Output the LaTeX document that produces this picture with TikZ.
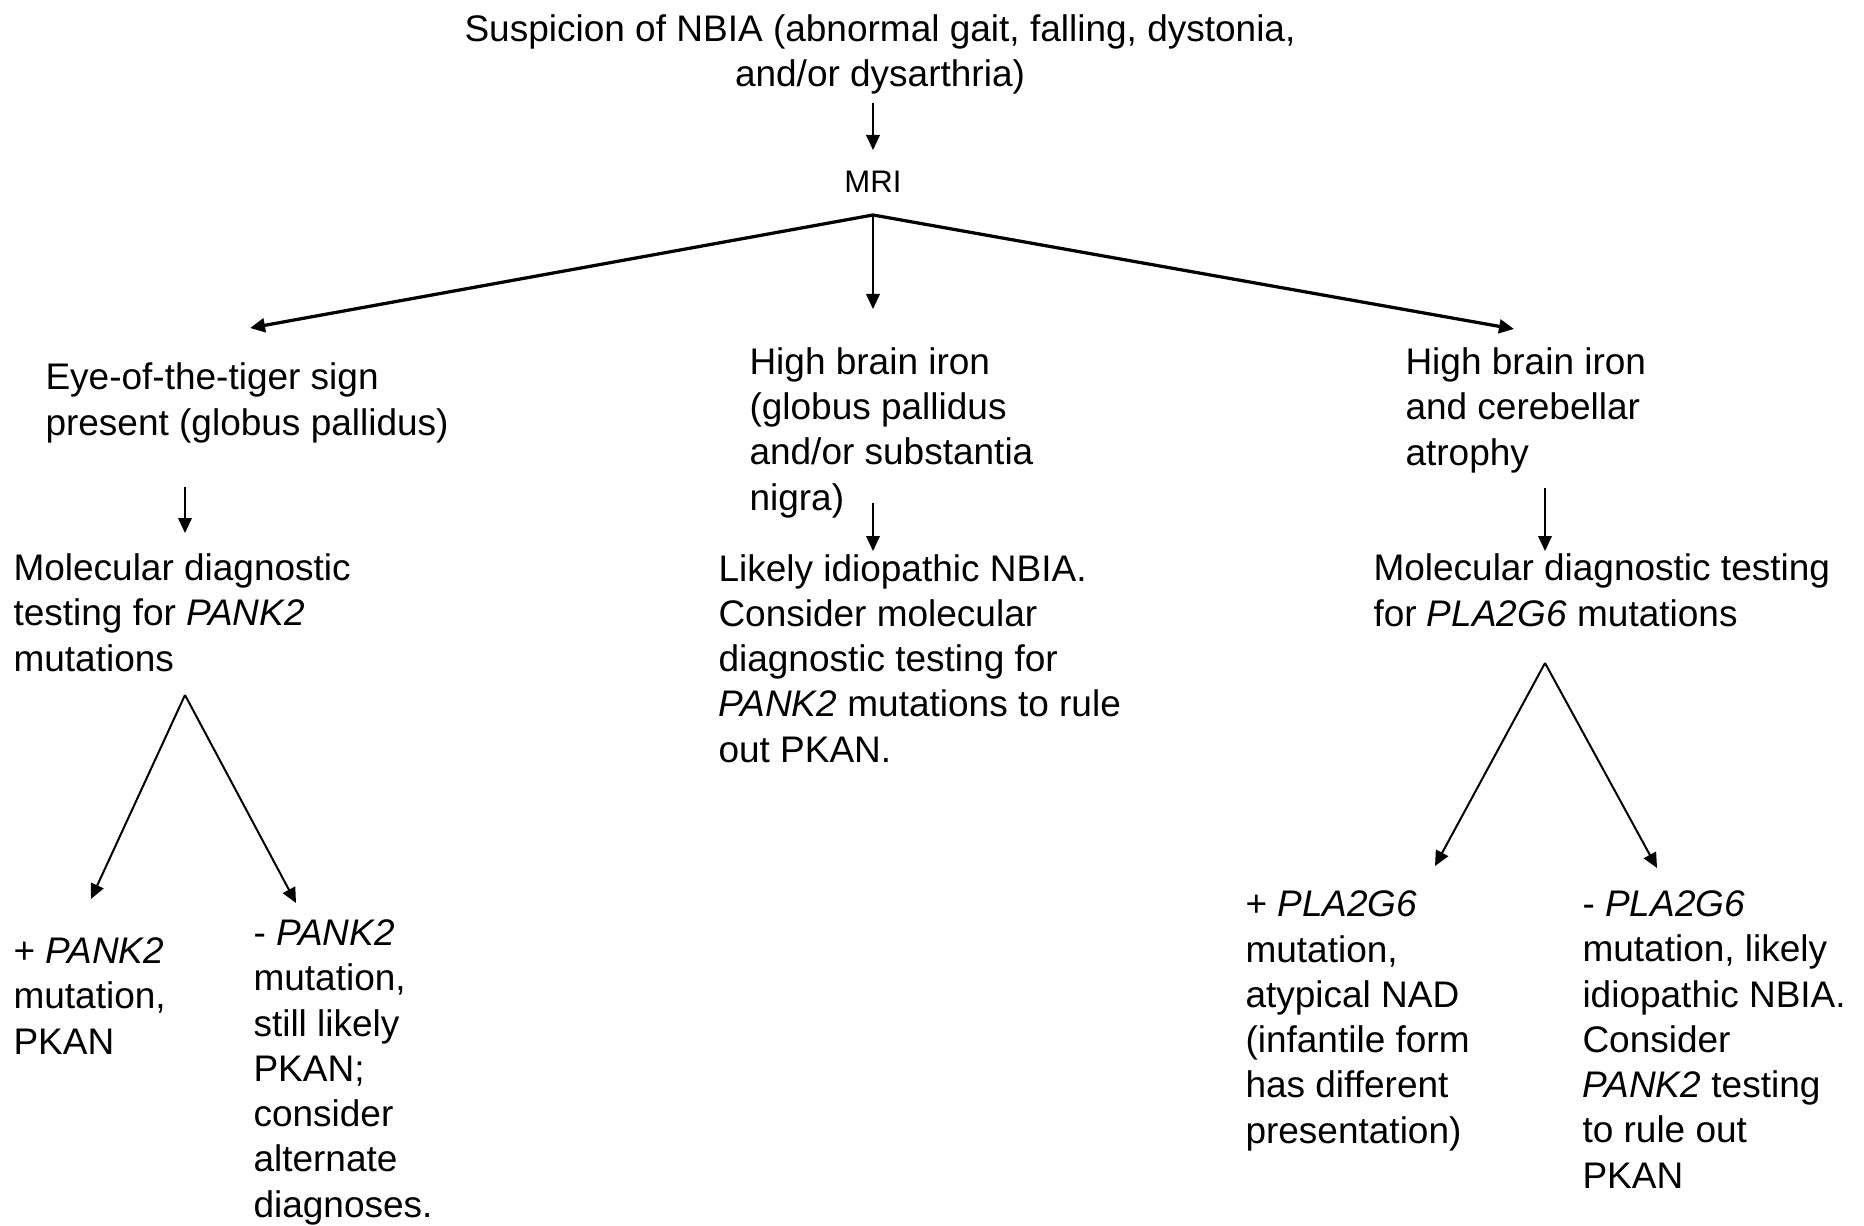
\documentclass[tikz,border=0pt]{standalone}
\usepackage{fontspec}
\setmainfont{Liberation Sans}
\usetikzlibrary{arrows.meta}
\begin{document}
\begin{tikzpicture}[x=0.4pt,y=-0.4pt,>={Triangle[length=6pt,width=5.5pt]},
  txt/.style={inner sep=0pt,anchor=base west,align=left,font=\fontsize{14.8pt}{18.1pt}\selectfont},
  thinline/.style={->,line width=0.55pt},
  medline/.style={->,line width=0.8pt},
  thickline/.style={->,line width=1.3pt}]
\useasboundingbox (0,0) rectangle (1864,1225);
% texts (placed at the baseline of their last line)
\node[txt,anchor=base,align=center](susp) at (880,87){Suspicion of NBIA (abnormal gait, falling, dystonia,\\and/or dysarthria)};
\node[inner sep=0pt,anchor=base,font=\fontsize{12.45pt}{15pt}\selectfont](mri) at (873,193){MRI};
\node[txt](eye) at (45,435){Eye-of-the-tiger sign\\present (globus pallidus)};
\node[txt](ironmid) at (749,510){High brain iron\\(globus pallidus\\and/or substantia\\nigra)};
\node[txt](ironcb) at (1405,465){High brain iron\\and cerebellar\\atrophy};
\node[txt](molpank) at (13,671){Molecular diagnostic\\testing for \textit{PANK2}\\mutations};
\node[txt](idio) at (718,762){Likely idiopathic NBIA.\\Consider molecular\\diagnostic testing for\\\textit{PANK2} mutations to rule\\out PKAN.};
\node[txt](molpla) at (1373,626){Molecular diagnostic testing\\for \textit{PLA2G6} mutations};
\node[txt](pankpos) at (13,1054){+ \textit{PANK2}\\mutation,\\PKAN};
\node[txt](pankneg) at (253,1217){- \textit{PANK2}\\mutation,\\still likely\\PKAN;\\consider\\alternate\\diagnoses.};
\node[txt](plapos) at (1245,1143){+ \textit{PLA2G6}\\mutation,\\atypical NAD\\(infantile form\\has different\\presentation)};
\node[txt](planeg) at (1582,1188){- \textit{PLA2G6}\\mutation, likely\\idiopathic NBIA.\\Consider\\\textit{PANK2} testing\\to rule out\\PKAN};
% arrow ends
\coordinate (suspout) at (873,103);
\coordinate (mriin) at (873,150);
\coordinate (mrifork) at (873,215);
\coordinate (eyein) at (250,328);
\coordinate (midin) at (873,309);
\coordinate (cbin) at (1514,329);
\coordinate (eyeout) at (185,487);
\coordinate (molpankin) at (185,533);
\coordinate (midout) at (873,503);
\coordinate (idioin) at (873,551);
\coordinate (cbout) at (1545,488);
\coordinate (molplain) at (1545,551);
\coordinate (pankfork) at (185,695);
\coordinate (pankposin) at (91,899);
\coordinate (panknegin) at (296,903);
\coordinate (plafork) at (1545,663);
\coordinate (plaposin) at (1435,866);
\coordinate (planegin) at (1657,868);
% arrows
\draw[thinline](suspout)--(mriin);
\draw[thickline](mrifork)--(eyein);
\draw[thinline](mrifork)--(midin);
\draw[thickline](mrifork)--(cbin);
\draw[thinline](eyeout)--(molpankin);
\draw[thinline](midout)--(idioin);
\draw[thinline](cbout)--(molplain);
\draw[medline](pankfork)--(pankposin);
\draw[medline](pankfork)--(panknegin);
\draw[medline](plafork)--(plaposin);
\draw[medline](plafork)--(planegin);
\end{tikzpicture}
\end{document}
